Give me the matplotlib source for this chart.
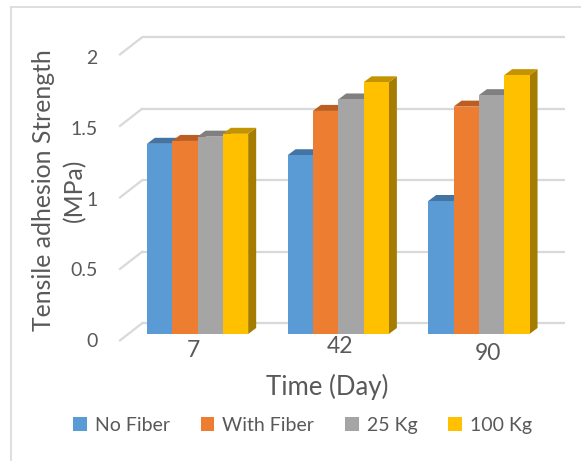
import numpy as np
import matplotlib
matplotlib.use("Agg")
import matplotlib.pyplot as plt
from matplotlib.patches import Polygon, Patch
from matplotlib.lines import Line2D

plt.rcParams['font.family'] = ['Lato', 'DejaVu Sans']

# ---- data ----
days = ['7', '42', '90']
series = ['No Fiber', 'With Fiber', '25 Kg', '100 Kg']
no_fiber = [1.33, 1.25, 0.93]
with_fiber = [1.35, 1.56, 1.59]
kg25 = [1.38, 1.64, 1.67]
kg100 = [1.40, 1.76, 1.81]
yticks = [0, 0.5, 1, 1.5, 2]
values = [no_fiber, with_fiber, kg25, kg100]

# ---- style ----
front_cols = ['#5B9BD5', '#ED7D31', '#A5A5A5', '#FFC000']
top_cols = ['#4474A3', '#BC5E22', '#808080', '#C49300']
side_cols = ['#3E6A94', '#A9551F', '#747474', '#A67C00']
txt = '#595959'
grid = '#D9D9D9'

W, H = 581, 461
fig = plt.figure(figsize=(W / 100, H / 100), dpi=100)
ax = fig.add_axes([113.1 / W, 1 - 348.3 / H, (563.3 - 113.1) / W, (348.3 - 19.4) / H])
ax.set_xlim(-0.6, 2.6)
ax.set_ylim(-0.1, 2.2)
for s in ax.spines.values():
    s.set_visible(False)

w = 0.18          # bar width
ddx, ddy = 0.057, 0.042   # depth offset of bar top/side
wall_dy = 0.075           # back wall height shift
wall_x0, wall_x1, front_x = -0.394, 2.612, -0.551

# back wall gridlines + diagonal to the front edge
for v in yticks:
    ax.plot([wall_x0, wall_x1], [v + wall_dy, v + wall_dy], color=grid, lw=1.6,
            zorder=0, clip_on=False, solid_capstyle='butt')
    ax.plot([front_x, wall_x0], [v - 0.045, v + wall_dy], color=grid, lw=1.6,
            zorder=0, clip_on=False)

x = np.arange(len(days))
for g in range(len(days)):
    for i in range(len(series)):
        v = values[i][g]
        x0 = x[g] + (i - 2) * w
        x1 = x0 + w
        z = 2 + g * 10 + i * 2
        ax.add_patch(Polygon([(x1, 0), (x1 + ddx, ddy), (x1 + ddx, v + ddy), (x1, v)],
                             closed=True, fc=side_cols[i], ec='none', zorder=z))
        ax.add_patch(Polygon([(x0, v), (x0 + ddx, v + ddy), (x1 + ddx, v + ddy), (x1, v)],
                             closed=True, fc=top_cols[i], ec='none', zorder=z))
        ax.bar(x0, v, width=w, align='edge', color=front_cols[i], zorder=z + 1)

# y tick labels sit on the front plane
ax.set_xticks([])
ax.set_yticks([v * 0.9895 - 0.042 for v in yticks], [f'{v:g}' for v in yticks])
ax.tick_params(axis='y', length=0, pad=11, labelsize=14, labelcolor=txt)

# category labels (perspective puts them at slightly different spots)
lab_dx = [-0.03, 0.01, 0.063]
lab_y = [-0.112, -0.084, -0.135]
for g, d in enumerate(days):
    ax.text(x[g] + lab_dx[g], lab_y[g], d, ha='center', va='center',
            fontsize=16.5, color=txt)

fig.text(326.7 / W, 1 - 387 / H, 'Time (Day)', ha='center', va='center',
         fontsize=18.5, color=txt)
fig.text(59.5 / W, 1 - 190 / H, 'Tensile adhesion Strength\n(MPa)', rotation=90,
         ha='center', va='center', multialignment='center', fontsize=17.8,
         color=txt, linespacing=1.4)

handles = [Patch(fc=c, ec='none') for c in front_cols]
fig.legend(handles, series, loc='center', bbox_to_anchor=(302.5 / W, 1 - 425 / H),
           ncol=4, frameon=False, fontsize=14, labelcolor=txt,
           handlelength=0.7, handleheight=0.7, handletextpad=0.4,
           columnspacing=1.6)

# chart border (only top and left visible)
fig.add_artist(Line2D([11 / W, 11 / W], [0, 1 - 7 / H], color=grid, lw=1.2))
fig.add_artist(Line2D([11 / W, 1], [1 - 7 / H, 1 - 7 / H], color=grid, lw=1.2))

fig.savefig('out.png', dpi=100)
